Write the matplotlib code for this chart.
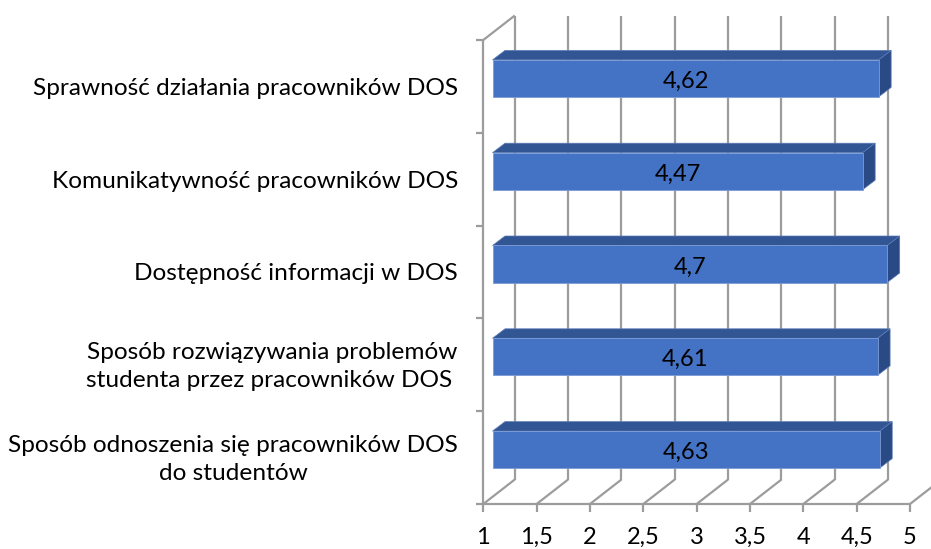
import matplotlib
matplotlib.use('Agg')
import matplotlib.pyplot as plt
from matplotlib.patches import Polygon

plt.rcParams['font.family'] = ['Lato', 'DejaVu Sans']

categories = [
    'Sposób odnoszenia się pracowników DOS\ndo studentów',
    'Sposób rozwiązywania problemów\nstudenta przez pracowników DOS ',
    'Dostępność informacji w DOS',
    'Komunikatywność pracowników DOS',
    'Sprawność działania pracowników DOS',
]
values = [4.63, 4.61, 4.7, 4.47, 4.62]
x_ticks = [1, 1.5, 2, 2.5, 3, 3.5, 4, 4.5, 5]

W, H = 931, 549
grid = '#9c9c9c'

fig = plt.figure(figsize=(W / 100, H / 100), dpi=100)
ax = fig.add_axes([483.3 / W, 1 - 504 / H, (910 - 483.3) / W, (504 - 40) / H])
ax.set_xlim(1, 5)
ax.set_ylim(0, len(categories))
ax.axis('off')

# pixels -> data units, for the fake 3d depth
px_x = 4 / (910 - 483.3)
px_y = len(categories) / (504 - 40)
wall_dx, wall_dy = 31.5 * px_x, 24.5 * px_y
bar_dx, bar_dy = 9.2 * px_x, 8 * px_y
side_dx, side_dy = 12.5 * px_x, 9.5 * px_y
bar_h = 37 * px_y


def line(xs, ys, color=grid, lw=1.6, z=1):
    ax.plot(xs, ys, color=color, lw=lw, clip_on=False, zorder=z, solid_capstyle='butt')


# walls and floor
for t in x_ticks:
    line([t, t + wall_dx], [0, wall_dy])
    line([t, t], [0, -8 * px_y])
    if t < 5:
        line([t + wall_dx, t + wall_dx], [wall_dy, len(categories) + wall_dy])
line([1, 5], [0, 0])
line([1, 1], [0, len(categories)])
line([1, 1 + wall_dx], [len(categories), len(categories) + wall_dy])
for i in range(len(categories) + 1):
    line([1 - 7 * px_x, 1], [i, i])

# bars
for i, v in enumerate(values):
    x0 = 1 + bar_dx
    x1 = v + bar_dx
    y0 = i + 0.5 + bar_dy - bar_h / 2
    y1 = y0 + bar_h
    ax.add_patch(Polygon([(x0, y1), (x0 + side_dx, y1 + side_dy), (x1 + side_dx, y1 + side_dy), (x1, y1)],
                         fc='#325594', ec='#5b7cb8', lw=0.5, zorder=3, clip_on=False))
    ax.add_patch(Polygon([(x1, y0), (x1 + side_dx, y0 + side_dy), (x1 + side_dx, y1 + side_dy), (x1, y1)],
                         fc='#2a4a85', ec='#5b7cb8', lw=0.5, zorder=3, clip_on=False))
    ax.add_patch(Polygon([(x0, y0), (x1, y0), (x1, y1), (x0, y1)],
                         fc='#4472c4', ec='#7b9bd6', lw=0.6, zorder=4, clip_on=False))
    ax.text((x0 + x1) / 2, (y0 + y1) / 2 - 9.5 * px_y, f'{v:g}'.replace('.', ','), ha='center', va='baseline',
            fontsize=17, color='black', zorder=5)

# labels
for i, c in enumerate(categories):
    ax.text(1 - 25.3 * px_x, i + 0.5 - 2 * px_y, c, ha='right', va='center', multialignment='center',
            fontsize=17.6, color='black', linespacing=1.43)
for t in x_ticks:
    ax.text(t, -40 * px_y, f'{t:g}'.replace('.', ','), ha='center', va='baseline',
            fontsize=17, color='black')

fig.savefig('out.png', dpi=100, facecolor='white')
